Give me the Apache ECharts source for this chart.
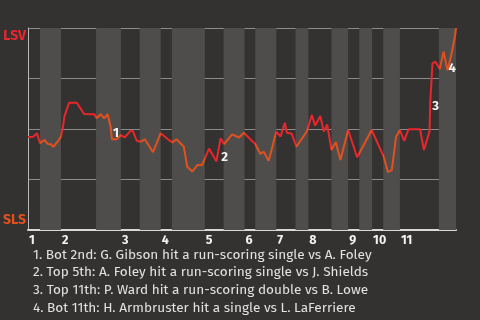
<!DOCTYPE html>
<html><head><meta charset="utf-8">
<script src="https://cdn.jsdelivr.net/npm/echarts@6/dist/echarts.min.js"></script>
<style>html,body{margin:0;padding:0;background:#343230;}#c{width:480px;height:320px;}</style>
</head><body><div id="c"></div>
<script>
// Half-inning boundaries along the game timeline (0..100)
const halfBounds = [0, 2.8, 7.7, 15.9, 21.7, 26.1, 31.0, 33.6, 41.3, 45.7, 50.6, 53.1, 58.0, 62.5, 65.5, 70.9, 74.8, 77.4, 80.4, 83.0, 86.9, 96.0, 100];
const inningLabels = ['1','2','3','4','5','6','7','8','9','10','11'];
// LSV win probability (%) along the timeline
const timeline = [0,1.2,2.1,2.8,3.8,4.6,5.4,5.9,6.9,7.7,8.1,8.5,9.0,9.6,11.4,13.1,15.5,16.0,17.0,17.8,18.6,19.3,19.6,20.7,21.7,22.6,24.0,24.5,25.4,26.3,27.3,29.2,31.0,32.9,33.7,34.7,36.4,37.2,38.4,39.6,40.7,42.3,44.0,45.0,45.8,47.7,49.3,50.4,52.0,53.1,54.3,55.1,56.2,56.9,58.0,59.0,60.0,60.5,61.6,62.7,65.2,66.3,67.1,68.3,69.1,69.9,70.9,71.9,73.0,74.8,76.9,80.3,83.1,84.1,85.0,86.0,86.9,87.9,88.9,91.6,92.5,93.8,94.0,94.5,95.2,96.2,97.1,98.0,98.9,99.8,100];
const winProb = [46,46.2,47.9,42.9,44.6,42.6,42.4,41.2,43.7,46.2,50.3,56.1,59.4,63.0,63.0,57.4,57.3,55.3,57.3,55.3,57.3,51.1,44.9,44.9,47.0,45.9,49.2,48.9,44.2,43.7,44.9,38.5,47.9,44.6,43.4,44.9,41.2,31.3,29.0,32.2,32.2,40.3,34.0,45.4,42.5,47.3,45.8,48.1,44.8,42.6,37.6,38.8,34.2,39.6,48.7,46.3,53.1,48.1,47.7,41.2,49.0,56.9,51.7,56.4,48.7,52.2,39.6,43.5,34.7,49.5,36.0,49.5,36.3,28.6,29.7,46.2,49.5,44.1,49.9,49.9,39.6,48.7,63.9,82.5,83.3,79.7,88.3,79.0,86.6,96.5,100];
// Key plays: index into the data, label
const eventIdx = [22, 42, 82, 87];
const eventNames = ['1','2','3','4'];
const eventText = [
  '1. Bot 2nd: G. Gibson hit a run-scoring single vs A. Foley',
  '2. Top 5th: A. Foley hit a run-scoring single vs J. Shields',
  '3. Top 11th: P. Ward hit a run-scoring double vs B. Lowe',
  '4. Bot 11th: H. Armbruster hit a single vs L. LaFerriere'
];
const teams = ['LSV', 'SLS'];

const RED = '#ea252c', ORANGE = '#e2501d';
const FONT = "'Fira Sans','Open Sans','Noto Sans',sans-serif";
const data = timeline.map((x, i) => [x, winProb[i]]);
const inningStarts = halfBounds.filter((b, i) => i % 2 === 0 && i < halfBounds.length - 1);
const pieces = [];
const bands = [];
for (let i = 0; i < halfBounds.length - 1; i++) {
  pieces.push({gte: halfBounds[i], lt: halfBounds[i + 1] + (i === halfBounds.length - 2 ? 1 : 0), color: i % 2 === 0 ? RED : ORANGE});
  if (i % 2 === 1) bands.push([{xAxis: halfBounds[i]}, {xAxis: halfBounds[i + 1]}]);
}
const offsets = [[0, -6], [4, -4], [1, 5], [0, -2]];
const marks = eventIdx.map((di, k) => ({
  coord: data[di], value: eventNames[k],
  label: {offset: offsets[k]}
}));

const chart = echarts.init(document.getElementById('c'));
chart.setOption({
  backgroundColor: '#343230',
  animation: false,
  title: {
    text: eventText.join('\n'), left: 28, top: 241,
    textStyle: {color: '#e2e2e2', fontSize: 13.6, fontWeight: 'normal', fontFamily: FONT, lineHeight: 17.7}
  },
  grid: {left: 27, right: 24, top: 28, bottom: 90, containLabel: false},
  visualMap: {show: false, type: 'piecewise', dimension: 0, seriesIndex: 0, pieces: pieces},
  xAxis: {
    type: 'value', min: 0, max: 100,
    axisLine: {show: true, lineStyle: {color: '#d8d8d8', width: 2}},
    axisTick: {show: false}, splitLine: {show: false},
    axisLabel: {
      customValues: inningStarts,
      formatter: v => { const k = inningStarts.findIndex(s => Math.abs(s - v) < 1e-6); return k >= 0 ? inningLabels[k] : ''; },
      align: 'left', padding: [0, 0, 0, 1], margin: 4,
      color: '#f2f2f2', fontWeight: 'bold', fontSize: 12.5, fontFamily: FONT
    }
  },
  yAxis: {
    type: 'value', min: 0, max: 100, interval: 25,
    axisLine: {show: true, lineStyle: {color: '#b8b8b8', width: 1}},
    axisTick: {show: false},
    splitLine: {show: true, lineStyle: {color: '#8c8c8c', width: 1}},
    axisLabel: {
      formatter: v => v === 100 ? '{a|' + teams[0] + '}' : (v === 0 ? '{b|' + teams[1] + '}' : ''),
      verticalAlignMaxLabel: 'top', verticalAlignMinLabel: 'bottom',
      margin: 2,
      rich: {
        a: {color: RED, fontWeight: 'bold', fontSize: 14, fontFamily: FONT, padding: [1, 0, 0, 0]},
        b: {color: ORANGE, fontWeight: 'bold', fontSize: 14, fontFamily: FONT, padding: [0, 0, 3, 0]}
      }
    }
  },
  series: [{
    type: 'line', data: data, symbol: 'none', lineStyle: {width: 2},
    markArea: {silent: true, itemStyle: {color: '#4f4d4b'}, data: bands},
    markPoint: {
      symbol: 'circle', symbolSize: 0, silent: true,
      label: {show: true, position: 'right', distance: 1, color: '#f4f4f4', fontWeight: 'bold', fontSize: 13, fontFamily: FONT, formatter: p => p.value},
      data: marks
    }
  }]
});
</script></body></html>
